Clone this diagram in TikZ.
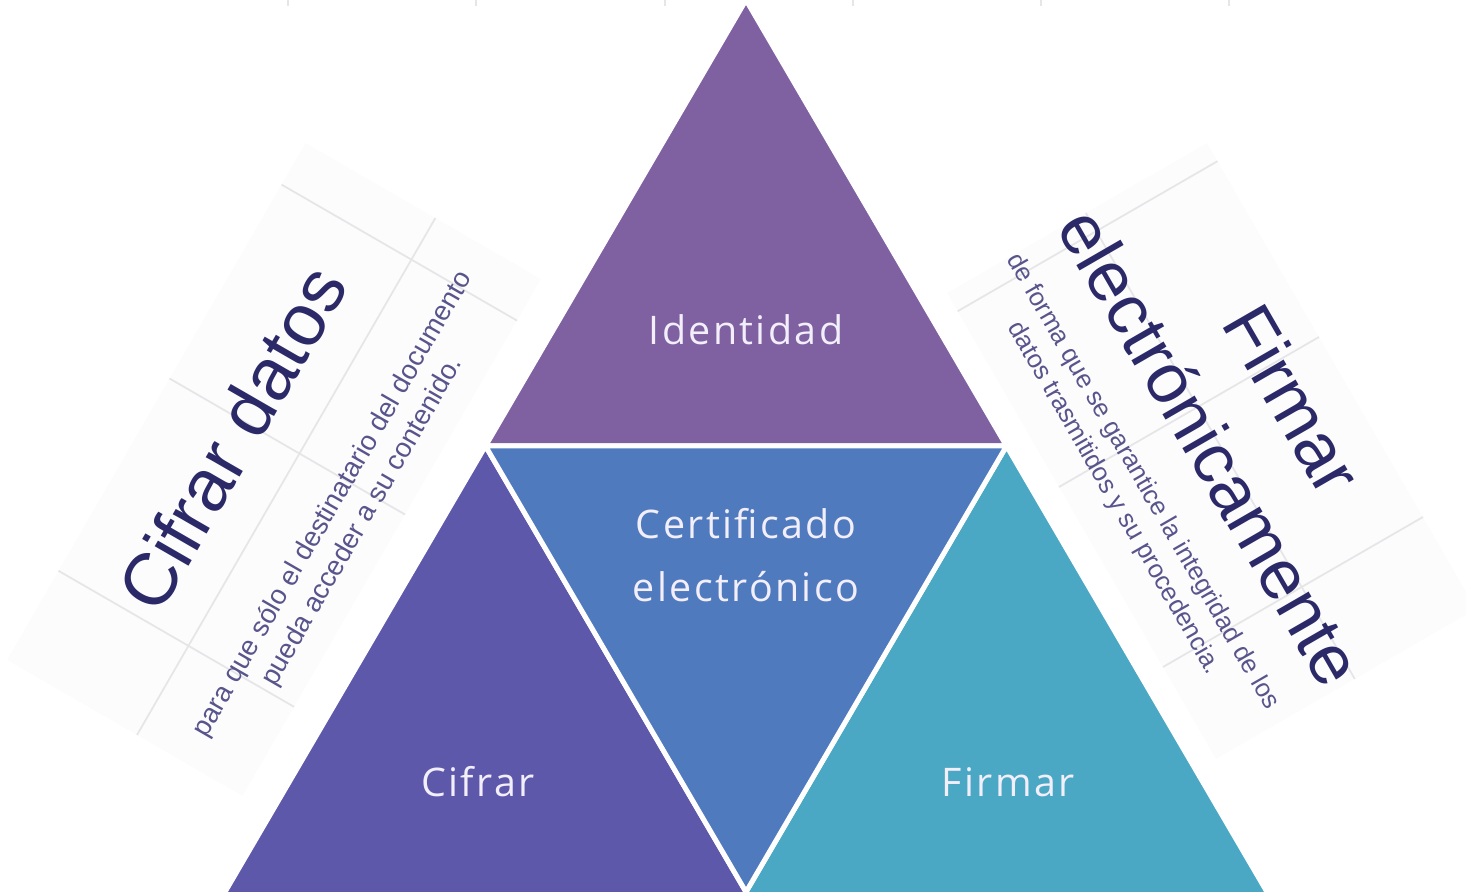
\documentclass[tikz,border=0pt]{standalone}
\usepackage{fontspec}
\setmainfont{Liberation Sans}
\newfontfamily\piecefont[LetterSpace=6]{Open Sans}
\usepackage{xcolor}
\definecolor{identidadfill}{RGB}{127,96,160}
\definecolor{certfill}{RGB}{80,122,190}
\definecolor{cifrarfill}{RGB}{94,88,171}
\definecolor{firmarfill}{RGB}{74,168,196}
\definecolor{titleink}{RGB}{43,41,104}
\definecolor{subink}{RGB}{88,84,140}
\definecolor{gridline}{RGB}{230,230,233}
\definecolor{panelfill}{RGB}{252,252,252}
\definecolor{labelink}{RGB}{242,238,250}

\begin{document}
\begin{tikzpicture}[x=0.01cm, y=-0.01cm,
  piece/.style={draw=white, line width=0.05cm, line join=round},
  grid/.style={draw=gridline, line width=0.5pt},
  piecelabel/.style={text=labelink, align=center, font=\piecefont\fontsize{11.2pt}{18pt}\selectfont},
  bigtitle/.style={text=titleink, align=center, font=\fontsize{21pt}{27pt}\selectfont},
  subtext/.style={text=subink, align=center, font=\fontsize{7.8pt}{9.7pt}\selectfont}]
\useasboundingbox (0,0) rectangle (1466,892);
\clip (0,0) rectangle (1466,892);
% remains of the table at the top
\foreach \x in {288,476,665,853,1041,1229} \draw [grid] (\x,0) -- (\x,6);
% left panel
\fill [panelfill] (7,660) -- (305.5,143) -- (541,279) -- (242.6,796) -- cycle;
\draw [grid] (58.5,570.8) -- (294,706.8);
\draw [grid] (169.5,378.5) -- (405,514.5);
\draw [grid] (281.5,184.6) -- (517,320.6);
\draw [grid] (137,735) -- (435.4,218);
% right panel
\fill [panelfill] (1207,143) -- (1476,609) -- (1216,759) -- (947,293) -- cycle;
\draw [grid] (1217.5,161.2) -- (957.7,311.2);
\draw [grid] (1319,337) -- (1059,487);
\draw [grid] (1423,517) -- (1163,667);
\draw [grid] (1085.8,213) -- (1354.8,679);
% the pyramid, cut by the lower edge
\coordinate (apex) at (746,0);
\coordinate (midleft) at (485.5,446);
\coordinate (midright) at (1006.5,446);
\coordinate (basemid) at (746,892);
\coordinate (baseleft) at (217.4,905);
\coordinate (cutleft) at (753.6,905);
\coordinate (cutright) at (738.4,905);
\coordinate (baseright) at (1274.6,905);
\filldraw [piece, fill=identidadfill] (apex) -- (midleft) -- (midright) -- cycle;
\filldraw [piece, fill=cifrarfill] (midleft) -- (baseleft) -- (cutleft) -- cycle;
\filldraw [piece, fill=firmarfill] (midright) -- (cutright) -- (baseright) -- cycle;
\filldraw [piece, fill=certfill] (midleft) -- (midright) -- (basemid) -- cycle;
\node [piecelabel] (identidad) at (746,330) {Identidad};
\node [piecelabel] (certificado) at (746,555) {Certificado\\electrónico};
\node [piecelabel] (cifrar) at (478,782) {Cifrar};
\node [piecelabel] (firmar) at (1008,782) {Firmar};
% side texts
\node [bigtitle, rotate=60] (cifrardatos) at (232,438) {Cifrar datos};
\node [subtext, rotate=60] (cifrarnota) at (348,513) {para que sólo el destinatario del documento\\pueda acceder a su contenido.};
\node [bigtitle, rotate=-60, font=\fontsize{20pt}{27pt}\selectfont] (firmarelec) at (1252,423) {Firmar\\electrónicamente};
\node [subtext, rotate=-60, font=\fontsize{7.3pt}{9.4pt}\selectfont] (firmarnota) at (1128,490) {de forma que se garantice la integridad de los\\datos trasmitidos y su procedencia.};
\end{tikzpicture}
\end{document}
